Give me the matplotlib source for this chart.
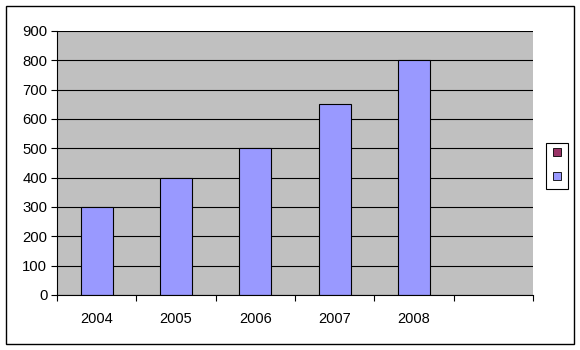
import numpy as np
import matplotlib.pyplot as plt
from matplotlib.lines import Line2D
from matplotlib.patches import Rectangle

years = ["2004", "2005", "2006", "2007", "2008"]
values = [300, 400, 500, 650, 800]
n_slots = 6  # the axis has one empty category at the end

plt.rcParams['font.family'] = ['Liberation Sans', 'DejaVu Sans']

fig = plt.figure(figsize=(5.8, 3.5), dpi=100)
fig.patches.append(Rectangle((6 / 580, 6 / 350), 568 / 580, 338 / 350,
                             transform=fig.transFigure, fill=False,
                             edgecolor="black", linewidth=1))

ax = fig.add_axes([57 / 580, 1 - 295 / 350, 476 / 580, 264 / 350])
ax.set_facecolor("#C0C0C0")
ax.set_axisbelow(True)

x = np.arange(len(years))
ax.bar(x, values, width=0.4, color="#9999FF", edgecolor="black", linewidth=0.8)

ax.set_xlim(-0.5, n_slots - 0.5)
ax.set_ylim(0, 900)
ax.set_yticks(np.arange(0, 901, 100))
ax.yaxis.grid(True, color="black", linewidth=0.8)

ax.set_xticks(x)
ax.set_xticklabels(years)
ax.set_xticks(np.arange(-0.5, n_slots, 1), minor=True)
ax.tick_params(axis="x", which="major", length=0, pad=12, labelsize=10.5)
ax.tick_params(axis="x", which="minor", length=4, width=0.8, direction="out")
ax.tick_params(axis="y", length=4, width=0.8, labelsize=10.7, pad=3)

for side in ("top", "right"):
    ax.spines[side].set_visible(False)
for side in ("left", "bottom"):
    ax.spines[side].set_linewidth(0.8)

handles = [
    Line2D([], [], linestyle="none", marker="s", markersize=6,
           markerfacecolor="#993366", markeredgecolor="black", markeredgewidth=0.6),
    Line2D([], [], linestyle="none", marker="s", markersize=6,
           markerfacecolor="#9999FF", markeredgecolor="black", markeredgewidth=0.6),
]
leg = fig.legend(handles, ["", ""], loc="center", bbox_to_anchor=(557 / 580, 1 - 165.5 / 350),
                 fontsize=9, handlelength=0.92, handletextpad=0, labelspacing=0.92,
                 borderpad=0.42, borderaxespad=0, fancybox=False, framealpha=1)
leg.get_frame().set_edgecolor("black")
leg.get_frame().set_linewidth(0.8)

fig.savefig("out.png", dpi=100)
